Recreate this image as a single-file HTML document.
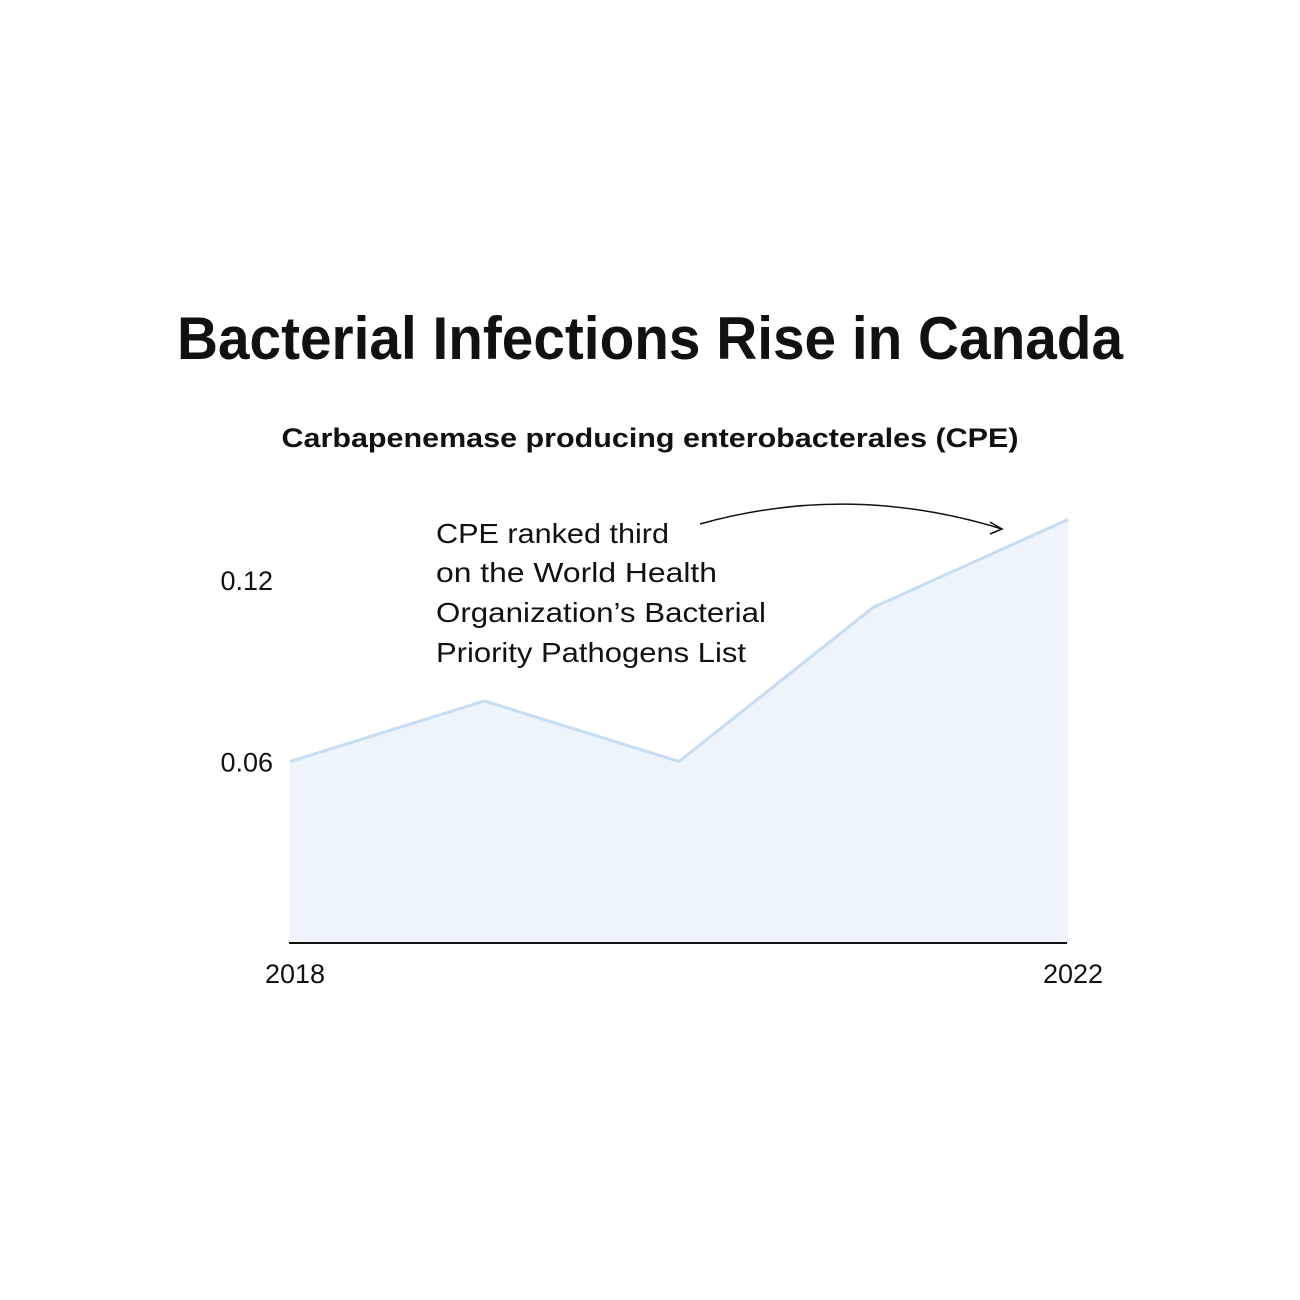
<!DOCTYPE html>
<html><head><meta charset="utf-8"><style>
html,body{margin:0;padding:0;background:#fff;}
svg{display:block;}
text{font-family:"Liberation Sans",sans-serif;fill:#111;}
</style></head><body>
<svg width="1300" height="1300" viewBox="0 0 1300 1300">
<text x="650" y="359" text-anchor="middle" font-size="60" font-weight="bold" textLength="946" lengthAdjust="spacingAndGlyphs" style="font-family:'Liberation Sans Narrow','Liberation Sans',sans-serif">Bacterial Infections Rise in Canada</text>
<text x="650" y="447" text-anchor="middle" font-size="27" font-weight="bold" textLength="737" lengthAdjust="spacingAndGlyphs">Carbapenemase producing enterobacterales (CPE)</text>
<g id="plot"></g>
<g>
<text x="436" y="543" font-size="28" textLength="233" lengthAdjust="spacingAndGlyphs">CPE ranked third</text>
<text x="436" y="582" font-size="28" textLength="281" lengthAdjust="spacingAndGlyphs">on the World Health</text>
<text x="436" y="622" font-size="28" textLength="330" lengthAdjust="spacingAndGlyphs">Organization’s Bacterial</text>
<text x="436" y="662" font-size="28" textLength="310" lengthAdjust="spacingAndGlyphs">Priority Pathogens List</text>
<path d="M700 524 Q850 482 1002 529" fill="none" stroke="#111" stroke-width="1.5"/>
<path d="M990 522 L1002 529 L990 534" fill="none" stroke="#111" stroke-width="1.5"/>
</g>
</svg>
<script>
const years = [2018, 2019, 2020, 2021, 2022];
const values = [0.06, 0.08, 0.06, 0.111, 0.14];
const yTicks = [0.06, 0.12];
const yTickLabels = ["0.06", "0.12"];
const xTickLabels = ["2018", "2022"];

const ns = "http://www.w3.org/2000/svg";
const g = document.getElementById("plot");
const x = y => 290 + (y - 2018) * (1068 - 290) / 4;
const yS = v => 943 - v * (181.5 / 0.06);

let pts = years.map((yr, i) => x(yr) + "," + yS(values[i]));
const area = document.createElementNS(ns, "polygon");
area.setAttribute("points", x(years[0]) + ",943 " + pts.join(" ") + " " + x(years[years.length-1]) + ",943");
area.setAttribute("fill", "#edf4fc");


g.appendChild(area);

const line = document.createElementNS(ns, "polyline");
line.setAttribute("points", pts.join(" "));
line.setAttribute("fill", "none");
line.setAttribute("stroke", "#c6dcf2");
line.setAttribute("stroke-width", "3");


g.appendChild(line);

const axis = document.createElementNS(ns, "line");
axis.setAttribute("x1", 289); axis.setAttribute("x2", 1067);
axis.setAttribute("y1", 943); axis.setAttribute("y2", 943);
axis.setAttribute("stroke", "#111"); axis.setAttribute("stroke-width", "2");


g.appendChild(axis);

yTicks.forEach((v, i) => {
  const t = document.createElementNS(ns, "text");
  t.setAttribute("x", 273); t.setAttribute("y", yS(v) + 10);
  t.setAttribute("text-anchor", "end"); t.setAttribute("font-size", "27");
  t.textContent = yTickLabels[i];
  
  
  g.appendChild(t);
});
[years[0], years[years.length-1]].forEach((yr, i) => {
  const t = document.createElementNS(ns, "text");
  t.setAttribute("x", x(yr) + 5); t.setAttribute("y", 983);
  t.setAttribute("text-anchor", "middle"); t.setAttribute("font-size", "27");
  t.textContent = xTickLabels[i];
  
  
  g.appendChild(t);
});
</script>
</body></html>
